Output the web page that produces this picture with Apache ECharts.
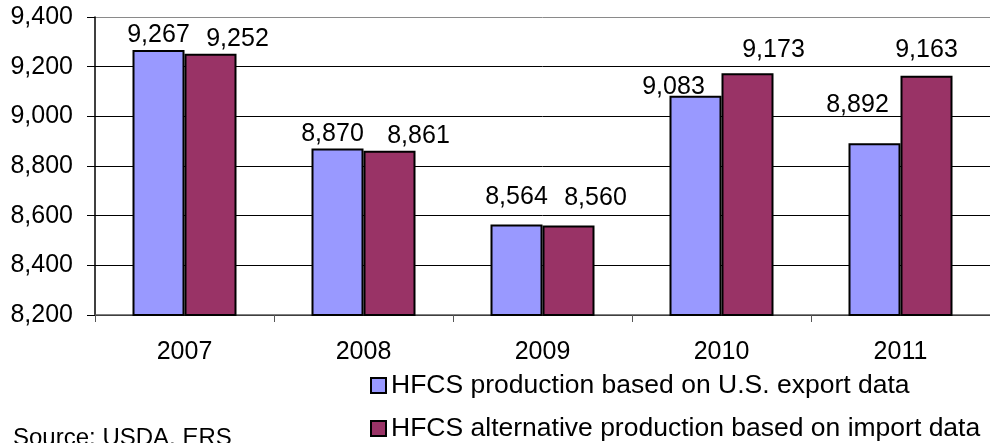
<!DOCTYPE html>
<html>
<head>
<meta charset="utf-8">
<script src="https://cdn.jsdelivr.net/npm/echarts@6/dist/echarts.min.js"></script>
<style>
html,body{margin:0;padding:0;background:#fff;}
#chart{width:990px;height:443px;}
</style>
</head>
<body>
<div id="chart"></div>
<script>
var categories = ['2007', '2008', '2009', '2010', '2011'];
var exportSeries = [9267, 8870, 8564, 9083, 8892];
var importSeries = [9252, 8861, 8560, 9173, 9163];
var seriesNames = ['HFCS production based on U.S. export data', 'HFCS alternative production based on import data'];
var yTicks = [8200, 8400, 8600, 8800, 9000, 9200, 9400];
var sourceText = 'Source: USDA, ERS';

// label placement tweaks (pixel offsets, like Excel's overlap avoidance)
var exportLabelOffsets = [[0, 0], [-5, 0], [0, -13], [-22, 6], [-17, -24]];
var importLabelOffsets = [[27, 0], [29, 0], [27, -13], [26, -9], [0, -11]];

var FONT = 'Liberation Sans, Arial, sans-serif';

function buildData(vals, offs) {
  return vals.map(function (v, i) {
    return { value: v, label: { offset: offs[i] } };
  });
}

var chart = echarts.init(document.getElementById('chart'), null, { renderer: 'canvas' });
chart.setOption({
  animation: false,
  backgroundColor: '#ffffff',
  textStyle: { fontFamily: FONT },
  grid: { left: 95, top: 17, width: 905, height: 298, containLabel: false },
  xAxis: {
    type: 'category',
    data: categories,
    axisLine: { lineStyle: { color: '#555', width: 1.5 } },
    axisTick: { show: true, alignWithLabel: false, length: 7, lineStyle: { color: '#555' } },
    axisLabel: { color: '#000', fontSize: 25, fontFamily: FONT, margin: 25 }
  },
  yAxis: {
    type: 'value',
    min: yTicks[0],
    max: yTicks[yTicks.length - 1],
    interval: 200,
    axisLine: { show: true, lineStyle: { color: '#000', width: 1.5 } },
    axisTick: { show: true, length: 8, inside: false, lineStyle: { color: '#000' } },
    axisLabel: {
      color: '#000', fontSize: 25, fontFamily: FONT, margin: 22,
      formatter: function (v) { return v.toLocaleString('en-US'); }
    },
    splitLine: { show: true, lineStyle: { color: ['#000', '#000', '#000', '#000', '#000', '#000', '#8a8a8a'], width: 1 } }
  },
  legend: {
    orient: 'vertical',
    left: 370,
    top: 372,
    padding: 0,
    itemGap: 16,
    itemWidth: 15,
    itemHeight: 15,
    icon: 'rect',
    textStyle: { color: '#000', fontSize: 26.5, fontFamily: FONT, lineHeight: 27 },
    data: seriesNames
  },
  graphic: [{
    type: 'text',
    left: 13,
    top: 426,
    style: { text: sourceText, fill: '#000', font: '24px ' + FONT }
  }],
  series: [
    {
      name: seriesNames[0],
      type: 'bar',
      data: buildData(exportSeries, exportLabelOffsets),
      barWidth: 52,
      barGap: '0%',
      itemStyle: { color: '#9999FF', borderColor: '#000', borderWidth: 2 },
      label: {
        show: true, position: 'top', distance: 2, color: '#000', fontSize: 25, fontFamily: FONT,
        formatter: function (p) { return p.value.toLocaleString('en-US'); }
      }
    },
    {
      name: seriesNames[1],
      type: 'bar',
      data: buildData(importSeries, importLabelOffsets),
      barWidth: 52,
      barGap: '0%',
      itemStyle: { color: '#993366', borderColor: '#000', borderWidth: 2 },
      label: {
        show: true, position: 'top', distance: 2, color: '#000', fontSize: 25, fontFamily: FONT,
        formatter: function (p) { return p.value.toLocaleString('en-US'); }
      }
    }
  ]
});
</script>
</body>
</html>
